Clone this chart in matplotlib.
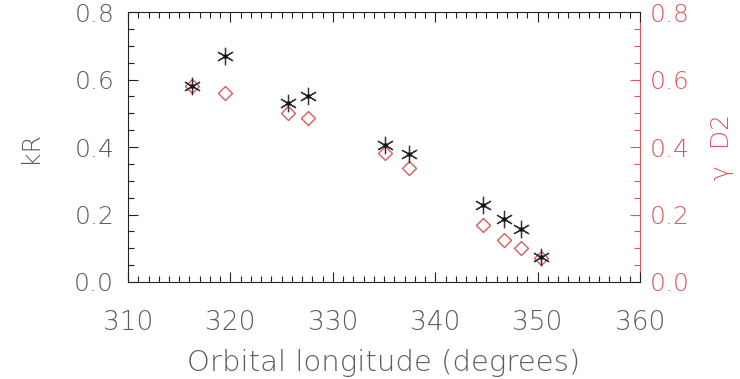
import matplotlib
matplotlib.use("Agg")
import matplotlib.pyplot as plt
from matplotlib.ticker import MultipleLocator, FormatStrFormatter

# orbital longitude (degrees) of each observation
longitude = [316.2, 319.5, 325.6, 327.6, 335.1, 337.4, 344.7, 346.7, 348.4, 350.3]
# kR (left axis, black asterisks)
kr = [0.58, 0.67, 0.53, 0.55, 0.405, 0.38, 0.228, 0.186, 0.157, 0.075]
# gamma D2 (right axis, red diamonds)
gamma_d2 = [0.58, 0.56, 0.502, 0.485, 0.381, 0.337, 0.169, 0.124, 0.10, 0.07]

GREY = "#5c5c5c"
RED = "#da5a5e"

plt.rcParams["font.family"] = ["DejaVu Sans"]
plt.rcParams["font.weight"] = "light"
plt.rcParams["axes.labelweight"] = "light"

fig = plt.figure(figsize=(7.4, 3.79), dpi=100)
ax = fig.add_axes([0.173, 0.256, 0.692, 0.712])
ax2 = ax.twinx()

ax2.plot(longitude, gamma_d2, linestyle="none", marker="D", markersize=7.5,
         markerfacecolor="none", markeredgecolor=RED, markeredgewidth=1.0)
ax.plot(longitude, kr, linestyle="none", marker=(6, 2, 0), markersize=12.5,
        markeredgecolor="#333333", markeredgewidth=0.9)
ax.plot(longitude, kr, linestyle="none", marker="o", markersize=2.2,
        color="#111111")
ax.set_zorder(ax2.get_zorder() + 1)
ax.patch.set_visible(False)

for a in (ax, ax2):
    a.set_xlim(310, 360)
    a.set_ylim(0, 0.8)
    a.yaxis.set_major_locator(MultipleLocator(0.2))
    a.yaxis.set_minor_locator(MultipleLocator(0.05))
    a.yaxis.set_major_formatter(FormatStrFormatter("%.1f"))

ax.xaxis.set_major_locator(MultipleLocator(10))
ax.xaxis.set_minor_locator(MultipleLocator(1))

ax.tick_params(axis="both", which="both", direction="in", top=True, right=False,
               labelcolor=GREY, color="#222222", width=0.8)
ax.tick_params(which="major", length=7)
ax.tick_params(which="minor", length=4)
ax.tick_params(axis="x", labelsize=19, pad=20)
ax.tick_params(axis="y", labelsize=18, pad=10)

ax2.tick_params(axis="y", which="both", direction="in", labelsize=18, pad=7,
                labelcolor=RED, color=RED, width=0.8)
ax2.tick_params(which="major", length=7)
ax2.tick_params(which="minor", length=4)

for s in ("left", "top", "bottom"):
    ax.spines[s].set_color("#222222")
    ax2.spines[s].set_visible(False)
ax.spines["right"].set_visible(False)
ax2.spines["right"].set_color(RED)

ax.set_xlabel("Orbital longitude (degrees)", fontsize=21, color=GREY, va="center")
ax.xaxis.set_label_coords(0.5, -0.30)
ax.set_ylabel("kR", fontsize=18, color=GREY, va="center")
ax.yaxis.set_label_coords(-0.191, 0.5)
ax2.set_ylabel("γ  D2", fontsize=18, color=RED, va="center")
ax2.yaxis.set_label_coords(1.16, 0.5)

fig.savefig("out.png", dpi=100)
